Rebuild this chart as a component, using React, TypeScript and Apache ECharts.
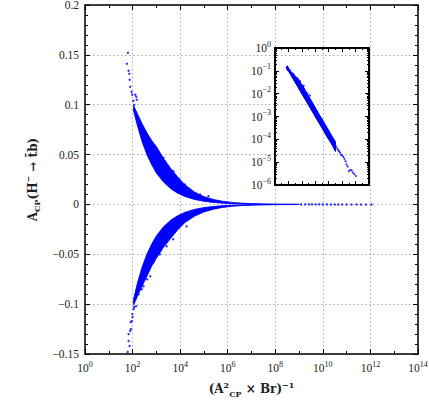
import React, { useEffect, useRef } from 'react';
import * as echarts from 'echarts';

const BLUE = '#0000ff';
const TXT = '#222';
const SERIF = 'Liberation Serif';
const BOLD = 'DejaVu Serif';

// x axis: (A_CP^2 x Br)^-1, main axis ticks as decade exponents
const xTickExponents = [0, 2, 4, 6, 8, 10, 12, 14];
const yTicks = [-0.15, -0.1, -0.05, 0, 0.05, 0.1, 0.15, 0.2];

const bandX = [110, 160, 250, 400, 630, 1000, 2000, 4000, 7600, 1.6e4, 4e4, 1e5, 2.5e5, 6e5, 1.5e6, 4e6, 1e7, 3e7, 1e8, 3e8, 1e9];
const posInner = [0.094, 0.079, 0.063, 0.05, 0.04, 0.0316, 0.0224, 0.0158, 0.0115, 0.0079, 0.005, 0.0032, 0.002, 0.0013, 0.0008, 0.0005, 0.00032, 0.00018, 0.0001, 0.00006, 0.00003];
const posOuter = [0.099, 0.091, 0.081, 0.072, 0.064, 0.058, 0.046, 0.036, 0.028, 0.0195, 0.0125, 0.0078, 0.005, 0.0032, 0.002, 0.0012, 0.0008, 0.00045, 0.00025, 0.00014, 0.00008];
const negInner = [-0.095, -0.079, -0.063, -0.05, -0.04, -0.0316, -0.0224, -0.0158, -0.0115, -0.0079, -0.005, -0.0032, -0.002, -0.0013, -0.0008, -0.0005, -0.00032, -0.00018, -0.0001, -0.00006, -0.00003];
const negOuter = [-0.101, -0.092, -0.082, -0.072, -0.062, -0.054, -0.043, -0.034, -0.026, -0.018, -0.0118, -0.0075, -0.0048, -0.003, -0.0019, -0.0011, -0.0007, -0.0004, -0.00022, -0.00012, -0.00007];

// Sparse points outside the dense band
const posPoints: [number, number][] = [
  [64, 0.152], [58, 0.141], [68, 0.134], [73, 0.131], [75, 0.125], [80, 0.118], [91, 0.113], [97, 0.11],
  [107, 0.104], [130, 0.11], [143, 0.108], [150, 0.105], [118, 0.1], [550, 0.065], [525, 0.062], [500, 0.056],
  [650, 0.0627], [810, 0.058], [1580, 0.048], [2000, 0.0467], [2350, 0.043], [3200, 0.038], [5250, 0.0333],
  [8500, 0.0217], [1e4, 0.023], [1.6e4, 0.02], [1.95e4, 0.0167], [3.1e4, 0.013], [6.9e4, 0.01], [1.55e5, 0.0083],
];
const negPoints: [number, number][] = [
  [62, -0.148], [75, -0.142], [68, -0.137], [68, -0.13], [80, -0.127], [85, -0.125], [83, -0.118], [93, -0.117],
  [100, -0.113], [98, -0.11], [117, -0.103], [110, -0.105], [141, -0.102], [129, -0.095], [178, -0.09], [245, -0.085],
  [288, -0.082], [407, -0.075], [550, -0.072], [470, -0.06], [645, -0.057], [760, -0.058], [1050, -0.048],
  [1400, -0.05], [2700, -0.042], [2750, -0.035], [5100, -0.035], [1.86e4, -0.022],
];
// Tail of points running along zero
const tailX = [1.2e9, 1.8e9, 2.6e9, 3.5e9, 5e9, 7e9, 1e10, 1.5e10, 2.2e10, 3.2e10, 4.5e10, 6.5e10, 1e11, 1.6e11, 2.6e11, 4e11, 6.5e11, 1.12e12];
const tailY = [5e-5, 4e-5, 3.4e-5, 3e-5, 2.6e-5, 2.1e-5, 2e-5, 1.7e-5, 1.4e-5, 1.1e-5, 8e-6, 6.5e-6, 4e-6, 4.6e-6, 4.4e-6, 3.5e-6, 3e-6, 2.5e-6];

const lg = (v: number) => Math.log10(v);

function band(xi: number, yi: number, inner: number[], outer: number[], abs: boolean) {
  const f = (v: number) => (abs ? Math.abs(v) : v);
  return {
    type: 'custom',
    coordinateSystem: 'cartesian2d',
    xAxisIndex: xi,
    yAxisIndex: yi,
    silent: true,
    clip: true,
    data: [[lg(bandX[0]), f(inner[0])]],
    renderItem: (_p: any, api: any) => {
      const pts: number[][] = [];
      for (let i = 0; i < bandX.length; i++) pts.push(api.coord([lg(bandX[i]), f(outer[i])]));
      for (let i = bandX.length - 1; i >= 0; i--) pts.push(api.coord([lg(bandX[i]), f(inner[i])]));
      return {
        type: 'polygon',
        shape: { points: pts },
        style: { fill: BLUE, stroke: BLUE, lineWidth: 0.9, lineJoin: 'round' },
      };
    },
  };
}

const supRich = {
  s: { fontFamily: SERIF, fontSize: 8, lineHeight: 9, verticalAlign: 'top', color: TXT },
};

const nameRich = {
  b: { fontFamily: BOLD, fontWeight: 'bold', fontSize: 12, color: TXT },
  sp: { fontFamily: BOLD, fontWeight: 'bold', fontSize: 8, lineHeight: 9, verticalAlign: 'top', color: TXT },
  sb: { fontFamily: BOLD, fontWeight: 'bold', fontSize: 8, lineHeight: 9, verticalAlign: 'bottom', color: TXT },
};

const tickStyle = (len: number) => ({ show: true, inside: true, length: len, lineStyle: { color: '#000', width: 1 } });

function mainX(pos: 'bottom' | 'top') {
  return {
    gridIndex: 0,
    type: 'value',
    position: pos,
    min: 0,
    max: 14,
    interval: 2,
    axisLine: { show: true, onZero: false, lineStyle: { color: '#000', width: 1.5 } },
    axisTick: tickStyle(5),
    minorTick: { ...tickStyle(3), splitNumber: 2 },
    splitLine: { show: pos === 'bottom', lineStyle: { color: '#aaa', type: [1.5, 2.5], width: 1 } },
    axisLabel: pos === 'bottom'
      ? {
          show: true,
          margin: 6,
          fontFamily: SERIF,
          fontSize: 11.5,
          color: TXT,
          lineHeight: 16,
          formatter: (v: number) => `10{s|${v}}`,
          rich: supRich,
        }
      : { show: false },
    ...(pos === 'bottom'
      ? {
          name: '{b|(A}{sp|2}{sb|CP}{b| × Br)}{sp|−1}',
          nameLocation: 'middle',
          nameGap: 26,
          nameTextStyle: { fontFamily: BOLD, fontWeight: 'bold', fontSize: 12, color: TXT, lineHeight: 17, rich: nameRich },
        }
      : {}),
  };
}

function mainY(pos: 'left' | 'right') {
  return {
    gridIndex: 0,
    type: 'value',
    position: pos,
    min: -0.15,
    max: 0.2,
    interval: 0.05,
    axisLine: { show: true, onZero: false, lineStyle: { color: '#000', width: 1.5 } },
    axisTick: tickStyle(5),
    minorTick: { ...tickStyle(3), splitNumber: 5 },
    splitLine: { show: pos === 'left', lineStyle: { color: '#aaa', type: [1.5, 2.5], width: 1 } },
    axisLabel: pos === 'left'
      ? {
          show: true,
          margin: 6,
          fontFamily: SERIF,
          fontSize: 11.5,
          color: TXT,
          formatter: (v: number) => String(Math.round(v * 100) / 100).replace('-', '−'),
        }
      : { show: false },
    ...(pos === 'left'
      ? {
          name: '{b|A}{sb|CP}{b|(H}{sp|−}{b| → t\u0304b)}',
          nameLocation: 'middle',
          nameRotate: 90,
          nameGap: 32,
          nameTextStyle: { fontFamily: BOLD, fontWeight: 'bold', fontSize: 12, color: TXT, lineHeight: 17, rich: nameRich },
        }
      : {}),
  };
}

function insetX(pos: 'bottom' | 'top') {
  return {
    gridIndex: 1,
    type: 'value',
    position: pos,
    min: 0,
    max: 14,
    interval: 2,
    axisLine: { show: true, onZero: false, lineStyle: { color: '#000', width: 2 } },
    axisTick: tickStyle(4),
    minorTick: { ...tickStyle(2), splitNumber: 2 },
    splitLine: { show: false },
    axisLabel: { show: false },
  };
}

function insetY(pos: 'left' | 'right') {
  return {
    gridIndex: 1,
    type: 'log',
    logBase: 10,
    position: pos,
    min: 1e-6,
    max: 1,
    axisLine: { show: true, onZero: false, lineStyle: { color: '#000', width: 2 } },
    axisTick: tickStyle(4),
    minorTick: { ...tickStyle(2), splitNumber: 9 },
    splitLine: { show: false },
    axisLabel: pos === 'left'
      ? {
          show: true,
          margin: 4,
          fontFamily: SERIF,
          fontSize: 11.5,
          color: TXT,
          lineHeight: 16,
          formatter: (v: number) => `10{s|${String(Math.round(Math.log10(v))).replace('-', '−')}}`,
          rich: supRich,
        }
      : { show: false },
  };
}

const mainScatter = [
  ...posPoints.map(([x, y]) => [lg(x), y]),
  ...negPoints.map(([x, y]) => [lg(x), y]),
  ...tailX.map((x, i) => [lg(x), tailY[i]]),
];
const insetScatter = mainScatter.map(([x, y]) => [x, Math.abs(y)]);

const option = {
  animation: false,
  backgroundColor: '#fff',
  grid: [
    { left: 85, top: 5, width: 333, height: 349, containLabel: false, outerBoundsMode: 'none' },
    { left: 275, top: 48, width: 94, height: 137, containLabel: false, outerBoundsMode: 'none' },
  ],
  xAxis: [mainX('bottom'), mainX('top'), insetX('bottom'), insetX('top')],
  yAxis: [mainY('left'), mainY('right'), insetY('left'), insetY('right')],
  series: [
    band(0, 0, posInner, posOuter, false),
    band(0, 0, negInner, negOuter, false),
    {
      type: 'scatter',
      xAxisIndex: 0,
      yAxisIndex: 0,
      symbol: 'circle',
      symbolSize: 2.4,
      silent: true,
      itemStyle: { color: BLUE },
      data: mainScatter,
    },
    band(2, 2, posInner, posOuter, true),
    band(2, 2, negInner, negOuter, true),
    {
      type: 'scatter',
      xAxisIndex: 2,
      yAxisIndex: 2,
      symbol: 'circle',
      symbolSize: 2.2,
      silent: true,
      itemStyle: { color: BLUE },
      data: insetScatter,
    },
  ],
};

export default function App() {
  const ref = useRef<HTMLDivElement>(null);
  useEffect(() => {
    const chart = echarts.init(ref.current!, null, { renderer: 'svg' });
    chart.setOption(option as any);
    return () => chart.dispose();
  }, []);
  return <div ref={ref} style={{ position: 'absolute', left: 0, top: 0, width: 429, height: 401 }} />;
}
